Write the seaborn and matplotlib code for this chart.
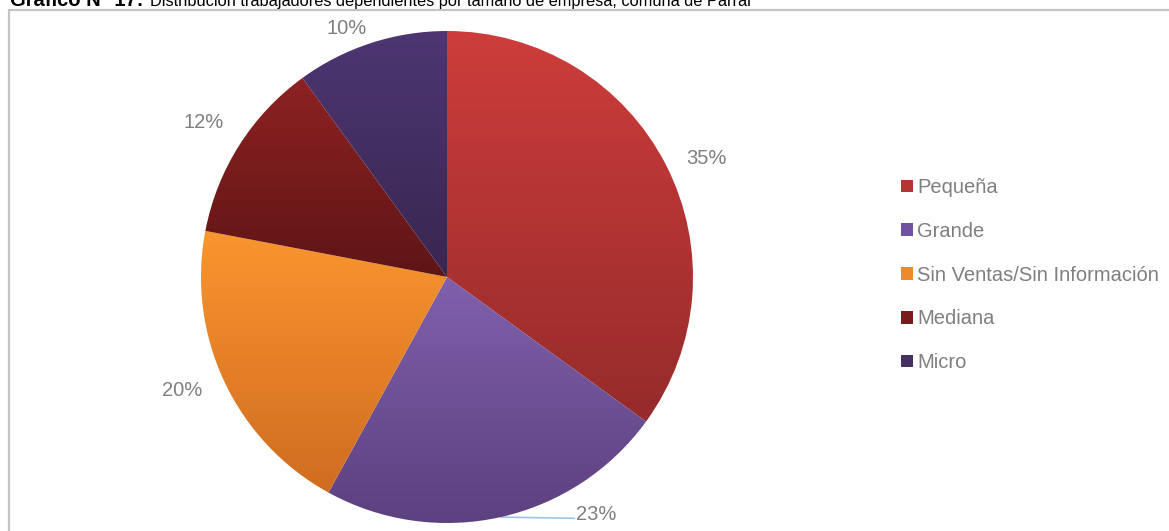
import numpy as np
import matplotlib.pyplot as plt
import matplotlib.colors as mcolors
from matplotlib.patches import Rectangle, Patch
import seaborn as sns

# Datos del gráfico
categorias = ['Pequeña', 'Grande', 'Sin Ventas/Sin Información', 'Mediana', 'Micro']
porcentajes = [35, 23, 20, 12, 10]
color_arriba = ['#cd3d3b', '#8060ac', '#f9962f', '#8e2222', '#4d3672']
color_abajo = ['#952b2b', '#5c407f', '#cf6c20', '#5e1515', '#392650']
color_medio = ['#b53534', '#7052a0', '#ed8a2a', '#7a1c1c', '#443062']

sns.set_theme(style='white')
plt.rcParams['font.family'] = ['Liberation Sans', 'DejaVu Sans']

W, H = 1169, 531
fig = plt.figure(figsize=(W / 100, H / 100), dpi=100)

# marco gris
fig.add_artist(Rectangle((8.5 / W, -0.01), 1.1, (531 - 10.5) / H + 0.01,
                         transform=fig.transFigure, fill=False,
                         edgecolor='#c4c4c4', linewidth=1.6))

# titulo (cortado arriba como en la imagen)
fig.text(10 / W, 1 - 6 / H, 'Gráfico N° 17:', fontsize=14.5, fontweight='bold',
         color='black', va='baseline', ha='left')
fig.text(150 / W, 1 - 6 / H,
         'Distribución trabajadores dependientes por tamaño de empresa, comuna de Parral',
         fontsize=11.8, color='black', va='baseline', ha='left')

# ejes del pie: centro (447, 277), radio 246 px
r_px = 246
half = 250
ax = fig.add_axes([(447 - half) / W, (H - 277 - half) / H, 2 * half / W, 2 * half / H])
wedges, _ = ax.pie(porcentajes, startangle=90, counterclock=False,
                   colors=color_medio, wedgeprops=dict(linewidth=0))
lim = half / r_px

# relleno degradado por sector
for w, c1, c2 in zip(wedges, color_arriba, color_abajo):
    ext = w.get_path().get_extents()
    cmap = mcolors.LinearSegmentedColormap.from_list('g', [c2, c1])
    grad = np.linspace(0, 1, 256).reshape(-1, 1)
    im = ax.imshow(grad, cmap=cmap, origin='lower', aspect='auto',
                   extent=[ext.x0, ext.x1, ext.y0, ext.y1], zorder=2)
    im.set_clip_path(w)
    w.set_facecolor('none')
ax.set_xlim(-lim, lim)
ax.set_ylim(-lim, lim)
ax.set_aspect('equal')
ax.axis('off')

# etiquetas de porcentaje
distancias = [1.16, None, 1.17, 1.17, 1.09]
giros = [-2.5, 0, -2, 0, 4]
for w, p, d, g in zip(wedges, porcentajes, distancias, giros):
    ang = np.deg2rad((w.theta1 + w.theta2) / 2 + g)
    if d is None:
        x0, y0 = np.cos(ang), np.sin(ang)
        ax.plot([x0, x0 + 0.30], [y0, y0 - 0.005], color='#9dc3e6', lw=1.2,
                zorder=1, clip_on=False)
        ax.text(x0 + 0.39, y0 + 0.01, f'{p}%', fontsize=14.5, color='#7f7f7f',
                ha='center', va='center', clip_on=False)
    else:
        ax.text(d * np.cos(ang), d * np.sin(ang), f'{p}%', fontsize=14.5,
                color='#7f7f7f', ha='center', va='center', clip_on=False)

# leyenda
handles = [Patch(facecolor=c, edgecolor='none') for c in color_medio]
fig.legend(handles, categorias, loc='upper left',
           bbox_to_anchor=(901 / W, 1 - 178 / H), frameon=False,
           fontsize=14.5, labelcolor='#7f7f7f', handlelength=0.6,
           handleheight=0.6, handletextpad=0.2, labelspacing=1.23,
           borderaxespad=0, borderpad=0)

plt.savefig('out.png', dpi=100)
